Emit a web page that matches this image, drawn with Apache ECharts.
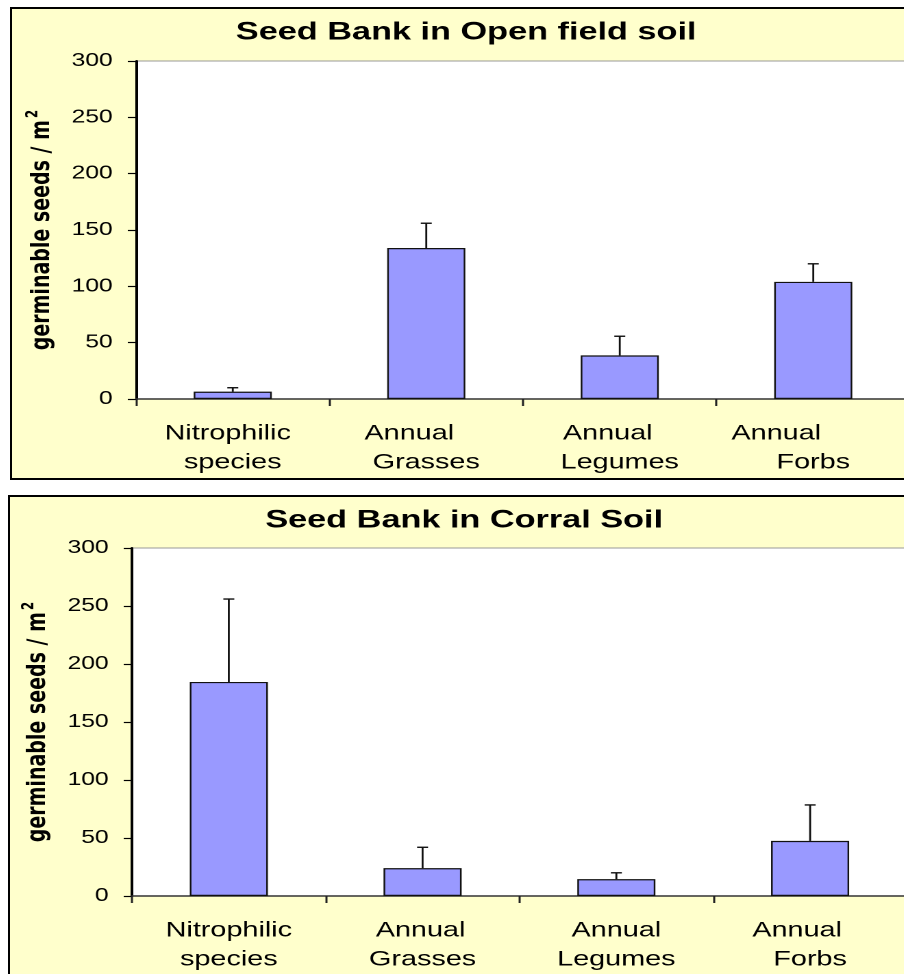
<!DOCTYPE html>
<html>
<head>
<meta charset="utf-8">
<script src="https://cdn.jsdelivr.net/npm/echarts@6/dist/echarts.min.js"></script>
<style>
  html, body { margin: 0; padding: 0; background: #fff; width: 904px; height: 974px; overflow: hidden; position: relative; }
  .panel { position: absolute; box-sizing: border-box; border: 2px solid #000; background: #ffffcc; overflow: hidden; }
  .chart { position: absolute; left: 0; top: 0; transform-origin: 0 0; }
</style>
</head>
<body>
<div class="panel" id="p1" style="left:10px; top:7px; width:912px; height:473px;"><div class="chart" id="c1"></div></div>
<div class="panel" id="p2" style="left:8px; top:495px; width:912px; height:490px;"><div class="chart" id="c2"></div></div>
<script>
// the original figure is stretched sideways, so each chart is drawn narrow and scaled in x
const STRETCH = 1.37

const categories = ['Nitrophilic\nspecies', 'Annual\nGrasses', 'Annual\nLegumes', 'Annual\nForbs']
const yTicks = [0, 50, 100, 150, 200, 250, 300]

const openMeans = [6.5, 134, 38.7, 104]
const openErrors = [3.5, 22, 17, 16]

const corralMeans = [184.5, 24, 14.5, 47.5]
const corralErrors = [71.5, 18, 5.5, 31]

const FONT = "'Liberation Sans', Arial, sans-serif"

// first label line sits a bit left of centre in the original (screen px)
function labelFormatter() {
  return (v, i) => {
    const parts = v.split('\n')
    return '{s' + i + '|' + parts[0] + '}\n' + parts[1]
  }
}

function labelRich(shifts) {
  const rich = {}
  shifts.forEach((s, i) => {
    rich['s' + i] = { fontFamily: FONT, fontSize: 21, color: '#000', lineHeight: 29, padding: [0, 2 * s / STRETCH, 0, 0] }
  })
  return rich
}

function buildOption(title, means, errors, grid, shifts) {
  return {
    animation: false,
    backgroundColor: 'transparent',
    title: {
      text: title,
      left: 'center',
      top: 11,
      padding: 0,
      textStyle: { fontFamily: FONT, fontWeight: 'bold', fontSize: 25, color: '#000' }
    },
    grid: Object.assign({ show: true, backgroundColor: '#fff', borderColor: '#999', borderWidth: 1 }, grid),
    xAxis: {
      type: 'category',
      data: categories,
      axisLine: { lineStyle: { color: '#333', width: 1.5 } },
      axisTick: { show: true, interval: 0, length: 7, lineStyle: { color: '#222', width: 1.5 } },
      axisLabel: {
        interval: 0,
        hideOverlap: false,
        fontFamily: FONT,
        fontSize: 21,
        color: '#000',
        lineHeight: 29,
        margin: 20,
        formatter: labelFormatter(),
        rich: labelRich(shifts)
      }
    },
    yAxis: {
      type: 'value',
      min: yTicks[0],
      max: yTicks[yTicks.length - 1],
      interval: 50,
      name: 'germinable seeds / m{sup|2}',
      nameLocation: 'middle',
      nameRotate: 90,
      nameGap: 56,
      nameTextStyle: {
        fontFamily: "'DejaVu Sans', sans-serif",
        fontWeight: 'bold',
        fontSize: 19,
        color: '#000',
        rich: { sup: { fontFamily: "'DejaVu Sans', sans-serif", fontWeight: 'bold', fontSize: 12, color: '#000', padding: [0, 0, 13, 2] } }
      },
      axisLine: { show: true, lineStyle: { color: '#000', width: 2 } },
      axisTick: { show: true, length: 6, lineStyle: { color: '#000', width: 1.2 } },
      splitLine: { show: false },
      axisLabel: { fontFamily: FONT, fontSize: 18, color: '#000', margin: 17 }
    },
    series: [
      {
        type: 'bar',
        data: means,
        barWidth: 57,
        itemStyle: { color: '#9999ff', borderColor: '#111', borderWidth: 1.2 }
      },
      {
        type: 'custom',
        z: 5,
        data: means.map((m, i) => [i, m, errors[i]]),
        encode: { x: 0, y: 1 },
        renderItem: (params, api) => {
          const idx = api.value(0)
          const m = api.value(1)
          const e = api.value(2)
          const base = api.coord([idx, m])
          const top = api.coord([idx, m + e])
          const style = { stroke: '#111', lineWidth: 1.4 }
          return {
            type: 'group',
            children: [
              { type: 'line', shape: { x1: base[0], y1: base[1], x2: top[0], y2: top[1] }, style },
              { type: 'line', shape: { x1: top[0] - 4, y1: top[1], x2: top[0] + 4, y2: top[1] }, style }
            ]
          }
        }
      }
    ]
  }
}

function makeChart(id, inner, option) {
  const el = document.getElementById(id)
  el.style.width = (inner.w / STRETCH) + 'px'
  el.style.height = inner.h + 'px'
  el.style.transform = 'scaleX(' + STRETCH + ')'
  const chart = echarts.init(el, null, { renderer: 'canvas', devicePixelRatio: 2 })
  chart.setOption(option)
  return chart
}

makeChart('c1', { w: 908, h: 469 }, buildOption(
  'Seed Bank in Open field soil', openMeans, openErrors,
  { left: 124 / STRETCH, top: 52, width: 774 / STRETCH, height: 338 }, [5, 17, 12, 37]))

makeChart('c2', { w: 908, h: 486 }, buildOption(
  'Seed Bank in Corral Soil', corralMeans, corralErrors,
  { left: 121 / STRETCH, top: 51, width: 776 / STRETCH, height: 348 }, [0, 2, 0, 13]))
</script>
</body>
</html>
